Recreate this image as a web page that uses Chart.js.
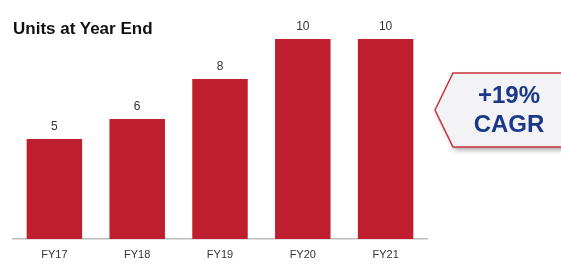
<!DOCTYPE html>
<html>
<head>
<meta charset="utf-8">
<script src="https://cdn.jsdelivr.net/npm/chart.js@4"></script>
<style>
  html, body { margin: 0; padding: 0; background: #fff; }
  .wrap { position: relative; width: 561px; height: 266px; }
  .title { position: absolute; left: 13px; top: 19px; font: bold 17px "Liberation Sans", Arial, sans-serif; color: #111; }
</style>
</head>
<body>
<div class="wrap">
  <canvas id="units_chart" width="561" height="266"></canvas>
  <div class="title">Units at Year End</div>
</div>
<script>
// data
const years = ['FY17', 'FY18', 'FY19', 'FY20', 'FY21'];
const units = [5, 6, 8, 10, 10];
const cagrLines = ['+19%', 'CAGR'];

const barRed = '#be1e2d';

/* value labels above each bar */
const valueLabels = {
    id: 'valueLabels',
    afterDatasetsDraw(chart) {
        const ctx = chart.ctx;
        const meta = chart.getDatasetMeta(0);
        ctx.save();
        ctx.font = '12px "Liberation Sans", Arial, sans-serif';
        ctx.fillStyle = '#333';
        ctx.textAlign = 'center';
        ctx.textBaseline = 'middle';
        meta.data.forEach((bar, i) => {
            ctx.fillText(units[i], bar.x, bar.y - 12);
        });
        ctx.restore();
    }
};

/* arrow-shaped CAGR callout on the right */
const cagrCallout = {
    id: 'cagrCallout',
    afterDraw(chart) {
        const ctx = chart.ctx;
        const tipX = 435, tipY = 110, bodyX = 453, top = 73, bottom = 147, right = 566;
        ctx.save();
        ctx.beginPath();
        ctx.moveTo(tipX, tipY);
        ctx.lineTo(bodyX, top);
        ctx.lineTo(right, top);
        ctx.lineTo(right, bottom);
        ctx.lineTo(bodyX, bottom);
        ctx.closePath();
        ctx.shadowColor = 'rgba(0,0,0,0.35)';
        ctx.shadowBlur = 5;
        ctx.shadowOffsetX = 2;
        ctx.shadowOffsetY = 3;
        ctx.fillStyle = '#f3f3f6';
        ctx.fill();
        ctx.shadowColor = 'transparent';
        ctx.lineWidth = 1.5;
        ctx.strokeStyle = '#c8323c';
        ctx.stroke();

        ctx.fillStyle = '#1a388a';
        ctx.font = 'bold 24px "Liberation Sans", Arial, sans-serif';
        ctx.textAlign = 'center';
        ctx.textBaseline = 'middle';
        ctx.fillText(cagrLines[0], 509, 96);
        ctx.fillText(cagrLines[1], 509, 125);
        ctx.restore();
    }
};

new Chart(document.getElementById('units_chart'), {
    type: 'bar',
    data: {
        labels: years,
        datasets: [{
            data: units,
            backgroundColor: barRed,
            borderWidth: 0,
            barPercentage: 1,
            categoryPercentage: 0.67
        }]
    },
    options: {
        responsive: false,
        animation: false,
        layout: { padding: { left: 13, right: 134, top: 39, bottom: 0 } },
        plugins: {
            legend: { display: false },
            tooltip: { enabled: false }
        },
        scales: {
            x: {
                grid: { display: false, drawTicks: false },
                border: { display: true, color: '#bdbdbd', width: 1.5 },
                ticks: {
                    color: '#333',
                    padding: 9,
                    font: { family: '"Liberation Sans", Arial, sans-serif', size: 11 }
                },
                afterFit(scale) { scale.height = 27; }
            },
            y: {
                display: false,
                min: 0,
                max: 10
            }
        }
    },
    plugins: [valueLabels, cagrCallout]
});
</script>
</body>
</html>
